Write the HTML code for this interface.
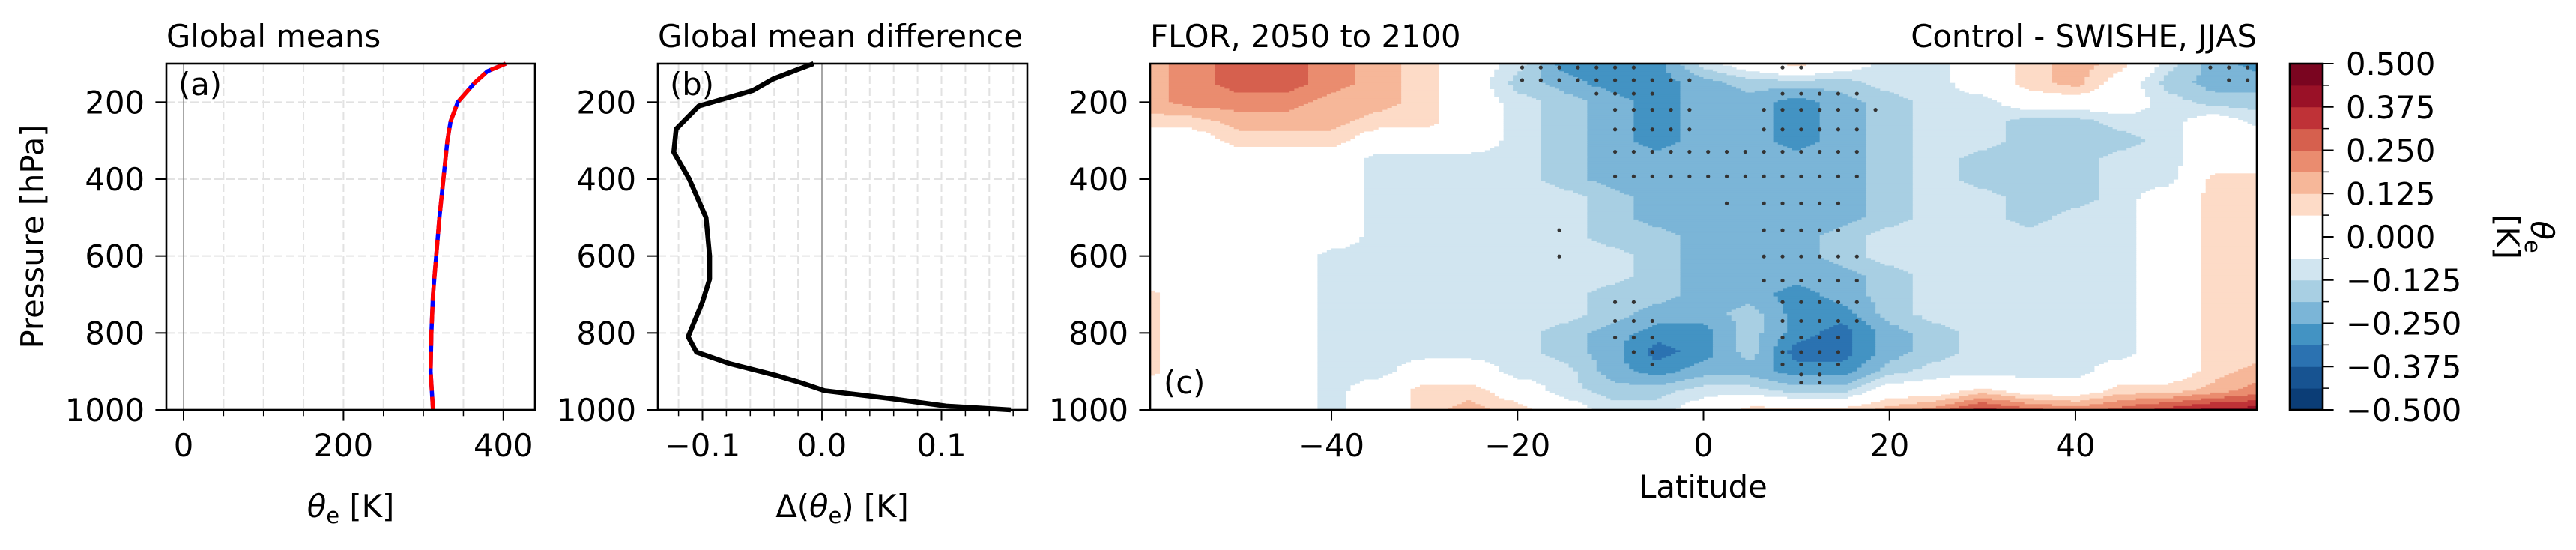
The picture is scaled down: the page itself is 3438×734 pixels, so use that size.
<!DOCTYPE html>
<html><head><meta charset="utf-8"><style>
html,body{margin:0;padding:0;background:#fff;}
svg text{font-family:"DejaVu Sans","Liberation Sans",sans-serif;font-size:41.7px;fill:#000;}
</style></head><body>
<svg id="fig" width="3438" height="729" viewBox="0 0 3438 729" xmlns="http://www.w3.org/2000/svg">
<defs><clipPath id="clipc"><rect x="1535" y="85" width="1477" height="462"/></clipPath></defs>
<rect width="3438" height="729" fill="#fff"/>
<g id="pa"></g>
<g id="pb"></g>
<g id="pc"></g>
<g id="cb"></g>
</svg>
<script>
// ---- data ----
const profP=[100,120,150,200,250,300,400,500,600,700,800,900,1000];
const thetaE=[403,380,364,343,334,330,325,320,316,312,310,309,312];
const diffP=[100,115,140,170,210,270,330,400,500,600,660,720,810,850,880,910,930,950,970,990,1000];
const diffV=[-0.007,-0.020,-0.041,-0.058,-0.103,-0.122,-0.124,-0.111,-0.097,-0.094,-0.094,-0.100,-0.112,-0.105,-0.077,-0.039,-0.017,0.002,0.056,0.104,0.158];
const lats=[-60,-55,-50,-45,-40,-35,-30,-25,-20,-15,-10,-5,0,5,10,15,20,25,30,35,40,45,50,55,60];
const pres=[100,150,200,250,300,350,400,450,500,550,600,650,700,750,800,850,900,950,1000];
// level codes (0 = white band, +n = nth red band, -n = nth blue band)
const fieldCodes=[
[2,3,4,4,3,2,1,0,-1,-4,-4,-4,-1,0,1,0,-1,-1,0,1,2,1,-1,-3,-4],
[2,3,4,4,3,2,1,0,-2,-3,-4,-4,-3,-2,-2,-2,-1,-1,0,1,2,0,-2,-3,-3],
[2,3,3,3,2,2,1,0,-1,-2,-3,-4,-3,-3,-4,-3,-2,-1,-1,0,0,0,-1,-2,-2],
[1,1,2,2,2,1,1,0,-1,-2,-3,-4,-3,-3,-4,-3,-2,-1,-1,-2,-2,-1,-1,0,-1],
[0,0,1,1,1,0,0,0,-1,-2,-3,-4,-3,-3,-4,-3,-2,-1,-1,-2,-2,-2,-1,0,0],
[0,0,0,0,0,-1,-1,-1,-1,-2,-3,-3,-3,-3,-3,-3,-2,-1,-2,-2,-2,-1,-1,0,0],
[0,0,0,0,0,-1,-1,-1,-1,-2,-3,-3,-3,-3,-3,-3,-2,-1,-2,-2,-2,-1,-1,1,1],
[0,0,0,0,0,-1,-1,-1,-1,-1,-2,-3,-3,-3,-3,-3,-2,-1,-1,-2,-2,-1,0,1,1],
[0,0,0,0,0,-1,-1,-1,-1,-1,-2,-3,-3,-3,-3,-3,-2,-1,-1,-2,-1,-1,0,1,1],
[0,0,0,0,0,-1,-1,-1,-1,-1,-2,-2,-3,-3,-3,-2,-1,-1,-1,-1,-1,-1,0,1,1],
[0,0,0,0,-1,-1,-1,-1,-1,-1,-1,-2,-3,-3,-3,-2,-1,-1,-1,-1,-1,-1,0,1,1],
[0,0,0,0,-1,-1,-1,-1,-1,-1,-1,-2,-3,-3,-3,-3,-2,-1,-1,-1,-1,-1,0,1,1],
[1,0,0,0,-1,-1,-1,-1,-1,-1,-2,-2,-3,-3,-4,-3,-2,-1,-1,-1,-1,-1,0,1,1],
[1,0,0,0,-1,-1,-1,-1,-1,-1,-2,-3,-3,-2,-4,-4,-2,-1,-1,-1,-1,-1,0,1,1],
[1,0,0,0,-1,-1,-1,-1,-1,-2,-3,-4,-4,-2,-4,-5,-3,-2,-1,-1,-1,-1,0,1,1],
[1,0,0,0,-1,-1,-1,-1,-1,-2,-3,-5,-4,-2,-5,-5,-3,-2,-1,-1,-1,-1,0,1,1],
[1,0,0,0,-1,-1,0,0,-1,-1,-3,-4,-3,-3,-4,-4,-2,-1,-1,-1,-1,0,0,1,2],
[0,0,0,0,-1,0,1,1,0,-1,-2,-2,-1,-1,-2,-2,0,0,1,0,0,1,1,2,3],
[0,0,0,0,-1,0,1,2,1,0,-1,-1,0,1,1,1,2,3,5,4,3,4,5,6,6]];
// stippling (significance) rows: pressure and latitudes
const dotP=[110,143,178,220,271,329,393,463,533,601,664,720,769,812,850,882,908,929];
const dotLats=[
[-19.5,-17.5,-15.5,-13.5,-11.5,-9.5,-7.5,8.5,10.5,54.5,56.5,58.5],
[-19.5,-17.5,-15.5,-13.5,-11.5,-9.5,-7.5,-5.5,-3.5,-1.5,56.5,58.5],
[-11.5,-9.5,-7.5,-5.5,8.5,10.5,12.5,14.5,16.5],
[-9.5,-7.5,-5.5,-3.5,-1.5,6.5,8.5,10.5,12.5,14.5,16.5,18.5],
[-9.5,-7.5,-5.5,-3.5,-1.5,6.5,8.5,10.5,12.5,14.5,16.5],
[-9.5,-7.5,-5.5,-3.5,-1.5,0.5,2.5,4.5,6.5,8.5,10.5,12.5,14.5,16.5],
[-9.5,-7.5,-5.5,-3.5,-1.5,0.5,2.5,4.5,6.5,8.5,10.5,12.5,14.5,16.5],
[2.5,6.5,8.5,10.5,12.5,14.5],
[-15.5,6.5,8.5,10.5,12.5,14.5],
[-15.5,6.5,8.5,10.5,12.5,14.5,16.5],
[6.5,8.5,10.5,12.5,14.5,16.5],
[-9.5,-7.5,8.5,10.5,12.5,14.5,16.5],
[-9.5,-7.5,-5.5,8.5,10.5,12.5,14.5,16.5],
[-9.5,-7.5,-5.5,8.5,10.5,12.5,14.5],
[-7.5,-5.5,8.5,10.5,12.5,14.5],
[-5.5,8.5,10.5,12.5,14.5],
[10.5,12.5],[10.5,12.5]];
const cbTicks=[0.5,0.375,0.25,0.125,0,-0.125,-0.25,-0.375,-0.5];
const cbTickLabels=["0.500","0.375","0.250","0.125","0.000","\u22120.125","\u22120.250","\u22120.375","\u22120.500"];
const latTicks=[-40,-20,0,20,40];
const latTickLabels=["\u221240","\u221220","0","20","40"];
const pTicks=[200,400,600,800,1000];
const aTicks=[0,200,400];
const bTicks=[-0.1,0,0.1];
const bTickLabels=["\u22120.1","0.0","0.1"];

// ---- layout / scales ----
const NS="http://www.w3.org/2000/svg";
const TOP=85,BOT=547;
const yp=p=>TOP+(p-100)*(BOT-TOP)/900;
const A={l:222,r:714}, B={l:878,r:1371}, C={l:1535,r:3012}, CB={l:3056,r:3100};
const xa=v=>245+v*1.067;
const xb=v=>1097+v*1595;
const xc=lat=>C.l+(lat+59.5)*(C.r-C.l)/119;
const ycb=v=>BOT-(v+0.5)*(BOT-TOP);
const levels=[];for(let i=0;i<=16;i++)levels.push(-0.5+i*0.0625);
const bandColors=["#0b3d76","#175391","#2b72b1","#4393c3","#7bb5d7","#a8cfe3","#d1e5f0","#ffffff","#ffffff","#fddbc7","#f6b799","#ea8c6f","#d6604e","#bf3237","#9a1127","#7a0520"];
function mk(tag,attrs,parent,txt){const e=document.createElementNS(NS,tag);for(const k in attrs)e.setAttribute(k,attrs[k]);if(txt!==undefined)e.textContent=txt;parent.appendChild(e);return e;}
function bandOf(v){let k=Math.floor((v+0.5)/0.0625);return Math.max(0,Math.min(15,k));}
const codeVal=c=>c>0?(c+0.5)*0.0625:(c<0?(c-0.5)*0.0625:0);

function gridV(g,x0,x1){for(let x=x0;x<=x1;x+=0){break;}}
function frame(g,L,R){mk('rect',{x:L,y:TOP,width:R-L,height:BOT-TOP,fill:'none',stroke:'#000','stroke-width':2.6},g);}
function yAxis(g,L,labels){pTicks.forEach(p=>{
  const t=mk('line',{x1:L-14.6,x2:L,y1:yp(p),y2:yp(p),stroke:'#000','stroke-width':2},g);
  
  if(labels){const tx=mk('text',{x:L-29,y:yp(p)+15,'text-anchor':'end'},g,String(p));
  }
});}

// ---- panel a ----
const pa=document.getElementById('pa');
for(let v=-0;v<=440;v+=50){if(v===0)continue;const l=mk('line',{x1:xa(v),x2:xa(v),y1:TOP,y2:BOT,stroke:'#e2e2e2','stroke-width':2,'stroke-dasharray':'11 5'},pa);}
[200,400,600,800].forEach(p=>{const l=mk('line',{x1:A.l,x2:A.r,y1:yp(p),y2:yp(p),stroke:'#e2e2e2','stroke-width':2,'stroke-dasharray':'11 5'},pa);});
mk('line',{x1:xa(0),x2:xa(0),y1:TOP,y2:BOT,stroke:'#888','stroke-width':1.5},pa);
const ptsA=profP.map((p,i)=>xa(thetaE[i])+','+yp(p)).join(' ');
const la1=mk('polyline',{points:ptsA,fill:'none',stroke:'#0000ff','stroke-width':5.5},pa);

const la2=mk('polyline',{points:ptsA,fill:'none',stroke:'#ff0000','stroke-width':5.5,'stroke-dasharray':'22 8'},pa);

frame(pa,A.l,A.r);yAxis(pa,A.l,true);
for(let v=0;v<=440;v+=50){const major=v%200===0;mk('line',{x1:xa(v),x2:xa(v),y1:BOT,y2:BOT+(major?14.6:8.3),stroke:'#000','stroke-width':major?2:1.5},pa);}
aTicks.forEach(v=>{const t=mk('text',{x:xa(v),y:609,'text-anchor':'middle'},pa,String(v));});
mk('text',{x:A.l,y:63,},pa,'Global means');
mk('text',{x:238,y:127,},pa,'(a)');
const xt=mk('text',{x:468,y:690,'text-anchor':'middle',},pa);
xt.innerHTML='<tspan font-style="italic">θ</tspan><tspan font-size="29" dy="8">e</tspan><tspan dy="-8"> [K]</tspan>';
mk('text',{x:0,y:0,'text-anchor':'middle',transform:'translate(58,316) rotate(-90)',},pa,'Pressure [hPa]');

// ---- panel b ----
const pb=document.getElementById('pb');
for(let k=-6;k<=8;k++){const v=k*0.02;if(k===0)continue;const l=mk('line',{x1:xb(v),x2:xb(v),y1:TOP,y2:BOT,stroke:'#e2e2e2','stroke-width':2,'stroke-dasharray':'11 5'},pb);}
[200,400,600,800].forEach(p=>{const l=mk('line',{x1:B.l,x2:B.r,y1:yp(p),y2:yp(p),stroke:'#e2e2e2','stroke-width':2,'stroke-dasharray':'11 5'},pb);});
mk('line',{x1:xb(0),x2:xb(0),y1:TOP,y2:BOT,stroke:'#888','stroke-width':1.5},pb);
const lb=mk('polyline',{points:diffP.map((p,i)=>xb(diffV[i])+','+yp(p)).join(' '),fill:'none',stroke:'#000','stroke-width':6.5,'stroke-linejoin':'round'},pb);

frame(pb,B.l,B.r);yAxis(pb,B.l,true);
for(let k=-6;k<=8;k++){const v=k*0.02;const major=(k%5===0);mk('line',{x1:xb(v),x2:xb(v),y1:BOT,y2:BOT+(major?14.6:8.3),stroke:'#000','stroke-width':major?2:1.5},pb);}
bTicks.forEach((v,i)=>{const t=mk('text',{x:xb(v),y:609,'text-anchor':'middle'},pb,bTickLabels[i]);});
mk('text',{x:B.l,y:63,},pb,'Global mean difference');
mk('text',{x:894,y:127,},pb,'(b)');
const xtb=mk('text',{x:1124,y:690,'text-anchor':'middle',},pb);
xtb.innerHTML='Δ(<tspan font-style="italic">θ</tspan><tspan font-size="29" dy="8">e</tspan><tspan dy="-8">) [K]</tspan>';

// ---- panel c ----
const pc=document.getElementById('pc');
const fg=mk('g',{'clip-path':'url(#clipc)'},pc);

function sample(lat,p){
  let fi=(lat-lats[0])/(lats[1]-lats[0]);fi=Math.max(0,Math.min(lats.length-1.0001,fi));
  let fj=(p-pres[0])/(pres[1]-pres[0]);fj=Math.max(0,Math.min(pres.length-1.0001,fj));
  const i=Math.floor(fi),j=Math.floor(fj),u=fi-i,w=fj-j;
  const v00=codeVal(fieldCodes[j][i]),v10=codeVal(fieldCodes[j][i+1]),v01=codeVal(fieldCodes[j+1][i]),v11=codeVal(fieldCodes[j+1][i+1]);
  return (v00*(1-u)+v10*u)*(1-w)+(v01*(1-u)+v11*u)*w;
}
const dLat=0.5,dP=5;
for(let p=100;p<1000;p+=dP){
  let runStart=-59.5,runBand=bandOf(sample(-59.5+dLat/2,p+dP/2));
  for(let lat=-59.5+dLat;lat<=59.5+1e-6;lat+=dLat){
    const b=lat>=59.5-1e-6?-1:bandOf(sample(lat+dLat/2,p+dP/2));
    if(b!==runBand){
      if(runBand!==7&&runBand!==8){const r=mk('rect',{x:xc(runStart),y:yp(p),width:xc(lat)-xc(runStart)+0.6,height:yp(p+dP)-yp(p)+0.6,fill:bandColors[runBand]},fg);
      }
      runStart=lat;runBand=b;
    }
  }
}
const dg=mk('g',{},pc);
dotP.forEach((p,r)=>dotLats[r].forEach(lat=>{const d=mk('circle',{cx:xc(lat),cy:yp(p),r:2.6,fill:'#333'},dg);}));
frame(pc,C.l,C.r);yAxis(pc,C.l,true);
latTicks.forEach((v,i)=>{mk('line',{x1:xc(v),x2:xc(v),y1:BOT,y2:BOT+14.6,stroke:'#000','stroke-width':2},pc);
  const t=mk('text',{x:xc(v),y:609,'text-anchor':'middle'},pc,latTickLabels[i]);});
mk('text',{x:2273,y:664,'text-anchor':'middle',},pc,'Latitude');
mk('text',{x:C.l,y:63,},pc,'FLOR, 2050 to 2100');
mk('text',{x:C.r,y:63,'text-anchor':'end',},pc,'Control - SWISHE, JJAS');
mk('text',{x:1553,y:525,},pc,'(c)');

// ---- colorbar ----
const cb=document.getElementById('cb');
for(let i=0;i<16;i++){const r=mk('rect',{x:CB.l,y:ycb(levels[i+1]),width:CB.r-CB.l,height:ycb(levels[i])-ycb(levels[i+1])+0.5,fill:bandColors[i]},cb);
  }
mk('rect',{x:CB.l,y:TOP,width:CB.r-CB.l,height:BOT-TOP,fill:'none',stroke:'#000','stroke-width':2.6},cb);
levels.forEach(v=>{mk('line',{x1:CB.r,x2:CB.r+8.3,y1:ycb(v),y2:ycb(v),stroke:'#000','stroke-width':1.5},cb);});
cbTicks.forEach((v,i)=>{mk('line',{x1:CB.r,x2:CB.r+14.6,y1:ycb(v),y2:ycb(v),stroke:'#000','stroke-width':2},cb);
  const t=mk('text',{x:3131,y:ycb(v)+15},cb,cbTickLabels[i]);});
const cl=mk('text',{x:0,y:0,'text-anchor':'middle',transform:'translate(3378,316) rotate(90)',},cb);
cl.innerHTML='<tspan font-style="italic">θ</tspan><tspan font-size="29" dy="8">e</tspan>';
mk('text',{x:0,y:0,'text-anchor':'middle',transform:'translate(3332,316) rotate(90)',},cb,'[K]');
</script>
</body></html>
